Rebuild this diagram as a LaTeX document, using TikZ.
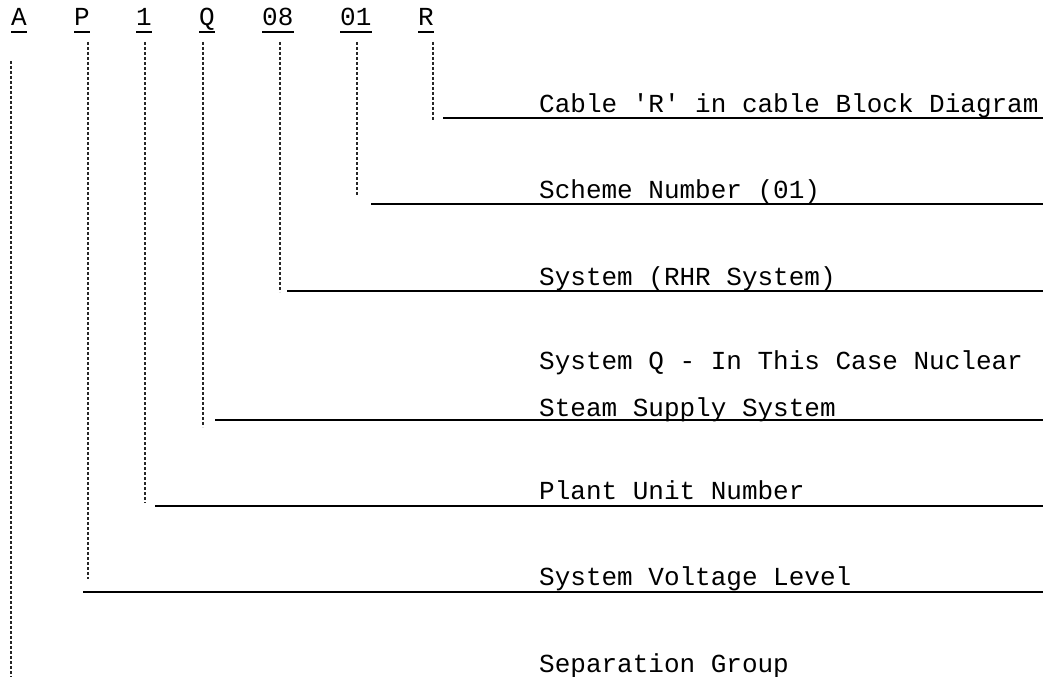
\documentclass[tikz,border=0pt]{standalone}
\usepackage{fontspec}
\setmainfont{Liberation Mono}
\usetikzlibrary{positioning}

\begin{document}
\begin{tikzpicture}[
    x=1pt, y=-1pt,
    code/.style={anchor=base west, inner sep=0pt, font=\fontsize{26}{30}\selectfont},
    desc/.style={anchor=base west, inner sep=0pt, font=\fontsize{26}{30}\selectfont},
    uline/.style={line width=1.3pt, black},
    leader/.style={line width=1.1pt, black!85, dash pattern=on 3pt off 2pt},
    rule/.style={line width=2pt, black}
  ]
    \useasboundingbox (0,0) rectangle (1045,677);

    % code letters
    \node[code] (codeA) at (11,26) {A};
    \node[code] (codeP) at (74,26) {P};
    \node[code] (codeOne) at (136,26) {1};
    \node[code] (codeQ) at (199,26) {Q};
    \node[code] (codeSys) at (262,26) {08};
    \node[code] (codeNum) at (340,26) {01};
    \node[code] (codeR) at (418,26) {R};

    \draw[uline] ([yshift=-6pt]codeA.base west) -- ([yshift=-6pt]codeA.base east);
    \draw[uline] ([yshift=-6pt]codeP.base west) -- ([yshift=-6pt]codeP.base east);
    \draw[uline] ([yshift=-6pt]codeOne.base west) -- ([yshift=-6pt]codeOne.base east);
    \draw[uline] ([yshift=-6pt]codeQ.base west) -- ([yshift=-6pt]codeQ.base east);
    \draw[uline] ([yshift=-6pt]codeSys.base west) -- ([yshift=-6pt]codeSys.base east);
    \draw[uline] ([yshift=-6pt]codeNum.base west) -- ([yshift=-6pt]codeNum.base east);
    \draw[uline] ([yshift=-6pt]codeR.base west) -- ([yshift=-6pt]codeR.base east);

    % descriptions
    \node[desc] (cable) at (539,113) {Cable \textquotesingle R\textquotesingle\ in cable Block Diagram};
    \node[desc] (scheme) at (539,198) {Scheme Number (01)};
    \node[desc] (system) at (539,285) {System (RHR System)};
    \node[desc] (nsssA) at (539,369) {System Q - In This Case Nuclear};
    \node[desc] (nsssB) at (539,416) {Steam Supply System};
    \node[desc] (unit) at (539,499) {Plant Unit Number};
    \node[desc] (volt) at (539,585) {System Voltage Level};
    \node[desc] (sepgrp) at (539,672) {Separation Group};

    % rule ends
    \coordinate (rEnd) at (1043,0);
    \coordinate (ruleR) at (443,118);
    \coordinate (ruleNum) at (371,204);
    \coordinate (ruleSys) at (287,291);
    \coordinate (ruleQ) at (215,420);
    \coordinate (ruleOne) at (155,506);
    \coordinate (ruleP) at (83,592);

    \draw[rule] (ruleR) -- (ruleR -| rEnd);
    \draw[rule] (ruleNum) -- (ruleNum -| rEnd);
    \draw[rule] (ruleSys) -- (ruleSys -| rEnd);
    \draw[rule] (ruleQ) -- (ruleQ -| rEnd);
    \draw[rule] (ruleOne) -- (ruleOne -| rEnd);
    \draw[rule] (ruleP) -- (ruleP -| rEnd);

    % leaders
    \coordinate (legR) at (433,120);
    \coordinate (legNum) at (357,195);
    \coordinate (legSys) at (280,292);
    \coordinate (legQ) at (203,427);
    \coordinate (legOne) at (145,503);
    \coordinate (legP) at (88,579);
    \coordinate (legA) at (11,677);

    \draw[leader] (legR |- 0,42) -- (legR);
    \draw[leader] (legNum |- 0,42) -- (legNum);
    \draw[leader] (legSys |- 0,42) -- (legSys);
    \draw[leader] (legQ |- 0,42) -- (legQ);
    \draw[leader] (legOne |- 0,42) -- (legOne);
    \draw[leader] (legP |- 0,42) -- (legP);
    \draw[leader] (legA |- 0,61) -- (legA);
  \end{tikzpicture}
\end{document}
